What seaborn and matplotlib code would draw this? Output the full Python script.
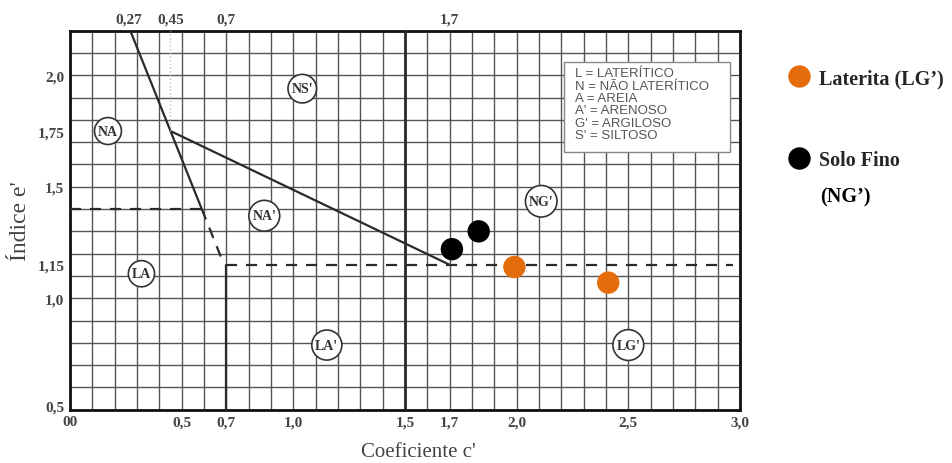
import numpy as np
import pandas as pd
import matplotlib
matplotlib.use("Agg")
import matplotlib.pyplot as plt
import seaborn as sns
from matplotlib.patches import Rectangle

# ---- data ----
grupo = ["Laterita (LG’)", "Laterita (LG’)", "Solo Fino", "Solo Fino"]
coef_c = [1.99, 2.41, 1.71, 1.83]
indice_e = [1.14, 1.07, 1.22, 1.30]
cores = {"Laterita (LG’)": "#E46C0A", "Solo Fino": "#000000"}

x_ticks = [0.0, 0.5, 0.7, 1.0, 1.5, 1.7, 2.0, 2.5, 3.0]
x_labels = ["00", "0,5", "0,7", "1,0", "1,5", "1,7", "2,0", "2,5", "3,0"]
top_ticks = [0.265, 0.45, 0.7, 1.7]
top_labels = ["0,27", "0,45", "0,7", "1,7"]
y_ticks = [0.52, 1.0, 1.15, 1.5, 1.75, 2.0]
y_labels = ["0,5", "1,0", "1,15", "1,5", "1,75", "2,0"]

# classification boundaries
solid_a_x = [0.27, 0.45, 0.59]
solid_a_y = [2.2, 1.75, 1.40]
solid_b_x = [0.45, 1.70]
solid_b_y = [1.75, 1.15]
dash_a_x = [0.59, 0.69]
dash_a_y = [1.40, 1.15]
dash_h14_x = [0.0, 0.59]
dash_h14_y = [1.40, 1.40]
dash_h115_x = [0.70, 2.97]
dash_h115_y = [1.15, 1.15]
vert07_x = [0.70, 0.70]
vert07_y = [0.5, 1.15]
vert15_x = [1.5, 1.5]
vert15_y = [0.5, 2.2]
dot045_x = [0.45, 0.45]
dot045_y = [1.75, 2.2]

zonas = ["NA", "NS'", "NA'", "LA", "LA'", "NG'", "LG'"]
zona_x = [0.17, 1.04, 0.87, 0.32, 1.15, 2.11, 2.50]
zona_y = [1.75, 1.94, 1.37, 1.11, 0.79, 1.435, 0.79]

legenda_txt = ["L = LATERÍTICO", "N = NÃO LATERÍTICO", "A = AREIA",
               "A' = ARENOSO", "G' = ARGILOSO", "S' = SILTOSO"]

df = pd.DataFrame({"c": coef_c, "e": indice_e, "grupo": grupo})

sns.set_theme(style="white")
plt.rcParams["font.family"] = ["Liberation Serif", "DejaVu Serif"]

fig = plt.figure(figsize=(9.53, 4.64), dpi=100)
ax = fig.add_axes([70/953, 1-410.7/464, 670/953, 379/464])

ax.set_xlim(0, 3.0)
ax.set_ylim(0.5, 2.2)

# grid every 0.1
ax.xaxis.remove_overlapping_locs = False
ax.yaxis.remove_overlapping_locs = False
ax.set_xticks(np.arange(0, 3.001, 0.1), minor=True)
ax.set_yticks(np.arange(0.5, 2.2001, 0.1), minor=True)
ax.grid(which="minor", color="#555555", linewidth=1.0)
ax.grid(which="major", visible=False)
ax.tick_params(which="minor", length=0)
ax.set_xticks(x_ticks, x_labels)
ax.set_yticks(y_ticks, y_labels)
ax.tick_params(which="major", length=0, pad=4, labelsize=11, labelcolor="#444444")
for lab in ax.get_xticklabels() + ax.get_yticklabels():
    lab.set_fontweight("bold")
for s in ax.spines.values():
    s.set_color("#111111")
    s.set_linewidth(2)

sec = ax.secondary_xaxis("top")
sec.set_xticks(top_ticks, top_labels)
sec.tick_params(length=0, pad=4, labelsize=11, labelcolor="#444444")
for lab in sec.get_xticklabels():
    lab.set_fontweight("bold")
sec.spines["top"].set_visible(False)

lk = dict(color="#2a2a2a", linewidth=1.6, zorder=3)
ax.plot(solid_a_x, solid_a_y, **lk)
ax.plot(solid_b_x, solid_b_y, **lk)
ax.plot(vert07_x, vert07_y, **lk)
ax.plot(vert15_x, vert15_y, color="#2a2a2a", linewidth=2.0, zorder=3)
dk = dict(color="#2a2a2a", linewidth=1.6, linestyle=(0, (5, 4)), zorder=3)
ax.plot(dash_a_x, dash_a_y, **dk)
ax.plot(dash_h14_x, dash_h14_y, **dk)
ax.plot(dash_h115_x, dash_h115_y, **dk)
ax.plot(dot045_x, dot045_y, color="#bbbbbb", linewidth=1.0, linestyle=":", zorder=3)

for z, zx, zy in zip(zonas, zona_x, zona_y):
    ax.text(zx, zy, z, ha="center", va="center", fontsize=10, fontweight="bold",
            color="#333333", zorder=5,
            bbox=dict(boxstyle="circle,pad=0.25", fc="white", ec="#333333", lw=1.2))

ax.add_patch(Rectangle((2.21, 1.655), 0.745, 0.405, fc="white", ec="#888888",
                       lw=1.0, zorder=4))
ax.text(2.26, 2.035, "\n".join(legenda_txt), ha="left", va="top",
        family="Liberation Sans", fontsize=9.5, color="#555555",
        linespacing=1.03, zorder=5)

sns.scatterplot(data=df, x="c", y="e", hue="grupo", palette=cores, s=260,
                edgecolor="none", ax=ax, zorder=6, legend=True)

handles, labels = ax.get_legend_handles_labels()
leg = ax.legend(handles, labels, loc="upper left", bbox_to_anchor=(770/953, 1-51/464),
                bbox_transform=fig.transFigure, frameon=False, markerscale=1.0,
                handletextpad=0.45, handlelength=1.1, labelspacing=3.05,
                prop=dict(family="Liberation Serif", size=14.5, weight="bold"))
fig.text(820/953, 1-197/464, "(NG’)", ha="left", va="center", fontsize=14.5,
         fontweight="bold", color="black")

ax.set_xlabel("Coeficiente c'", fontsize=15, color="#444444")
ax.set_ylabel("Índice e'", fontsize=17, color="#444444")
ax.xaxis.set_label_coords(0.52, -0.085)
ax.yaxis.set_label_coords(-0.058, 0.5)

fig.savefig("out.png", dpi=100)
